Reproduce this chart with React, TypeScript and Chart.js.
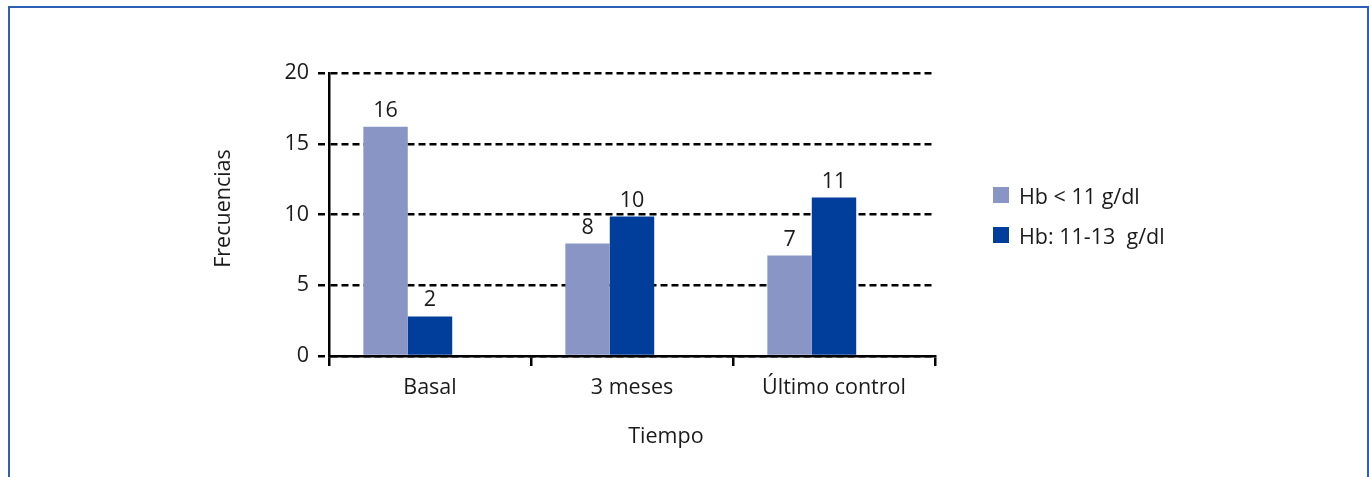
import React, { useEffect, useRef } from "react";
import { Chart, registerables } from "chart.js";

Chart.register(...registerables);

// ---- data ----
const categories = ["Basal", "3 meses", "Último control"];
const seriesNames = ["Hb < 11 g/dl", "Hb: 11-13  g/dl"];
const valuesLow = [16.2, 7.95, 7.1];
const valuesHigh = [2.8, 9.85, 11.2];
const labelsLow = ["16", "8", "7"];
const labelsHigh = ["2", "10", "11"];
const spacer = [0, 0, 0];
const yTicks = [0, 5, 10, 15, 20];
const yTitle = "Frecuencias";
const xTitle = "Tiempo";

const colorLow = "#8995c5";
const colorHigh = "#013d9b";
const textColor = "#1a1a1a";
const FONT = "'Open Sans', 'Noto Sans', sans-serif";
const FS = 21.5;

export default function App() {
  const ref = useRef<HTMLCanvasElement | null>(null);

  useEffect(() => {
    if (!ref.current) return;
    const valueLabels = [labelsLow, labelsHigh];

    const labelPlugin = {
      id: "valueLabels",
      afterDatasetsDraw(chart: any) {
        const ctx = chart.ctx;
        ctx.save();
        ctx.font = `${FS}px ${FONT}`;
        ctx.fillStyle = textColor;
        ctx.textAlign = "center";
        ctx.textBaseline = "alphabetic";
        [0, 1].forEach((di) => {
          const meta = chart.getDatasetMeta(di);
          meta.data.forEach((bar: any, i: number) => {
            ctx.fillText(valueLabels[di][i], bar.x, bar.y - 10);
          });
        });
        ctx.restore();
      },
    };

    const titlePlugin = {
      id: "axisTitles",
      afterDraw(chart: any) {
        const ctx = chart.ctx;
        const a = chart.chartArea;
        ctx.save();
        ctx.font = `${FS}px ${FONT}`;
        ctx.fillStyle = textColor;
        ctx.textAlign = "center";
        ctx.textBaseline = "middle";
        ctx.fillText(xTitle, a.left + (a.right - a.left) * 0.556, a.bottom + 81);
        ctx.translate(a.left - 105, (a.top + a.bottom) / 2 - 6);
        ctx.rotate(-Math.PI / 2);
        ctx.fillText(yTitle, 0, 0);
        ctx.restore();
      },
    };

    const chart = new Chart(ref.current, {
      type: "bar",
      data: {
        labels: categories,
        datasets: [
          { label: seriesNames[0], data: valuesLow, backgroundColor: colorLow, borderWidth: 0 },
          { label: seriesNames[1], data: valuesHigh, backgroundColor: colorHigh, borderWidth: 0 },
          { label: "", data: spacer, backgroundColor: "rgba(0,0,0,0)", borderWidth: 0 },
        ],
      },
      options: {
        responsive: false,
        animation: false,
        layout: { padding: { left: 0, top: 73, right: 434, bottom: 0 } },
        plugins: {
          legend: { display: false },
          tooltip: { enabled: false },
        },
        datasets: { bar: { categoryPercentage: 0.66, barPercentage: 1 } },
        scales: {
          x: {
            offset: true,
            grid: {
              display: true,
              drawOnChartArea: false,
              drawTicks: true,
              tickLength: 10,
              color: "#000",
              lineWidth: 2.5,
              offset: true,
            },
            border: { display: true, color: "#000", width: 2.5 },
            ticks: { font: { size: FS, family: FONT }, color: textColor, padding: 9 },
            afterFit: (s: any) => {
              s.height = 121;
            },
          },
          y: {
            min: 0,
            max: 20,
            afterBuildTicks: (s: any) => {
              s.ticks = yTicks.map((v) => ({ value: v }));
            },
            grid: {
              color: "#000",
              lineWidth: 2.5,
              tickLength: 11,
              drawTicks: true,
              tickBorderDash: [7, 4],
            },
            border: { display: true, color: "#000", width: 2.5, dash: [7, 4] },
            ticks: { font: { size: FS, family: FONT }, color: textColor, padding: 9 },
            afterFit: (s: any) => {
              s.width = 329;
            },
          },
        },
      },
      plugins: [labelPlugin, titlePlugin],
    } as any);
    return () => chart.destroy();
  }, []);

  const legendRow = (color: string, text: string, top: number) => (
    <div
      style={{
        position: "absolute",
        left: 993,
        top,
        height: 24,
        display: "flex",
        alignItems: "center",
        fontFamily: FONT,
        fontSize: FS,
        color: textColor,
        whiteSpace: "pre",
      }}
    >
      <div style={{ width: 16, height: 16, background: color, marginRight: 10 }} />
      <span>{text}</span>
    </div>
  );

  return (
    <div
      style={{
        position: "absolute",
        left: 0,
        top: 0,
        width: 1369,
        height: 477,
        overflow: "hidden",
        background: "#fff",
      }}
    >
      <div
        style={{
          position: "absolute",
          left: 8,
          top: 6,
          width: 1357,
          height: 520,
          borderTop: "2px solid #2f5fb3",
          borderLeft: "2px solid #2f5fb3",
          borderRight: "2px solid #2f5fb3",
        }}
      />
      <canvas ref={ref} width={1369} height={477} style={{ position: "absolute", left: 0, top: 0 }} />
      {legendRow(colorLow, seriesNames[0], 183)}
      {legendRow(colorHigh, seriesNames[1], 223)}
    </div>
  );
}
